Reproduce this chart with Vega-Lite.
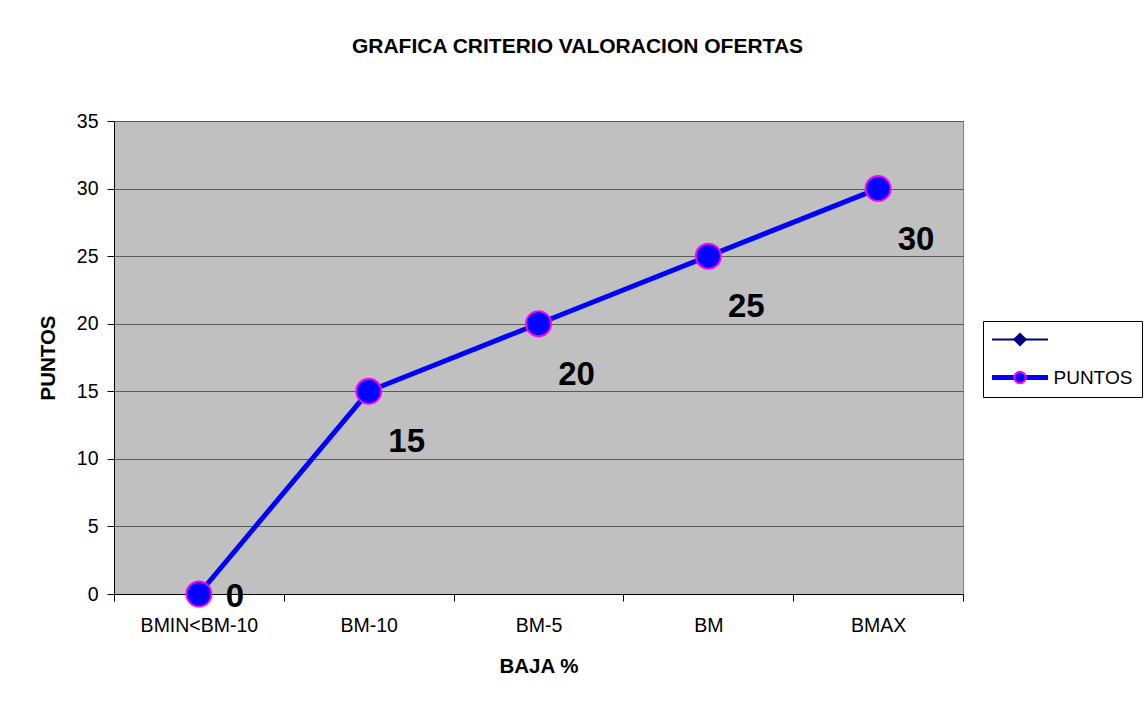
{
  "$schema": "https://vega.github.io/schema/vega-lite/v6.json",
  "autosize": "none",
  "width": 849,
  "height": 473,
  "padding": {"left": 114, "top": 121, "right": 182, "bottom": 113},
  "background": "white",
  "title": {
    "text": "GRAFICA CRITERIO VALORACION OFERTAS",
    "font": "Liberation Sans",
    "fontSize": 21,
    "fontWeight": "bold",
    "color": "black",
    "anchor": "middle",
    "baseline": "bottom",
    "offset": 33,
    "dx": 39
  },
  "data": {
    "values": [
      {"baja": "BMIN<BM-10", "PUNTOS": 0, "serie": "PUNTOS"},
      {"baja": "BM-10", "PUNTOS": 15, "serie": "PUNTOS"},
      {"baja": "BM-5", "PUNTOS": 20, "serie": "PUNTOS"},
      {"baja": "BM", "PUNTOS": 25, "serie": "PUNTOS"},
      {"baja": "BMAX", "PUNTOS": 30, "serie": "PUNTOS"}
    ]
  },
  "encoding": {
    "x": {
      "field": "baja",
      "type": "nominal",
      "sort": null,
      "scale": {"paddingInner": 0, "paddingOuter": 0},
      "axis": {
        "title": "BAJA %",
        "labelAngle": 0,
        "tickBand": "extent",
        "tickSize": 7,
        "labelPadding": 15,
        "titlePadding": 22,
        "grid": false
      }
    },
    "y": {
      "field": "PUNTOS",
      "type": "quantitative",
      "scale": {"domain": [0, 35], "nice": false},
      "axis": {
        "title": "PUNTOS",
        "values": [0, 5, 10, 15, 20, 25, 30, 35],
        "tickSize": 7,
        "labelPadding": 9,
        "titlePadding": 18,
        "grid": true
      }
    }
  },
  "layer": [
    {
      "mark": {"type": "line"},
      "encoding": {
        "color": {
          "field": "serie",
          "type": "nominal",
          "scale": {"domain": ["S1", "PUNTOS"], "range": ["#000080", "#0000FF"]},
          "legend": {
            "title": null,
            "orient": "none",
            "legendX": 869,
            "legendY": 200,
            "padding": 9,
            "fillColor": "white",
            "strokeColor": "black",
            "symbolType": "M-4,0H4",
            "symbolSize": 196,
            "symbolOffset": 18.5,
            "labelOffset": 24,
            "rowPadding": 17,
            "labelFontSize": 19,
            "labelFont": "Liberation Sans",
            "labelColor": "black",
            "labelExpr": "datum.value === 'PUNTOS' ? 'PUNTOS' : ''"
          }
        },
        "strokeWidth": {
          "field": "serie",
          "type": "nominal",
          "scale": {"type": "ordinal", "domain": ["S1", "PUNTOS"], "range": [2, 5]},
          "legend": {
            "title": null,
            "orient": "none",
            "legendX": 869,
            "legendY": 200,
            "padding": 9,
            "fillColor": "white",
            "strokeColor": "black",
            "symbolType": "M-4,0H4",
            "symbolSize": 196,
            "symbolOffset": 18.5,
            "labelOffset": 24,
            "rowPadding": 17,
            "labelFontSize": 19,
            "labelFont": "Liberation Sans",
            "labelColor": "black",
            "labelExpr": "datum.value === 'PUNTOS' ? 'PUNTOS' : ''"
          }
        }
      }
    },
    {
      "mark": {"type": "point", "filled": true, "size": 625, "strokeWidth": 2, "opacity": 1},
      "encoding": {
        "shape": {
          "field": "serie",
          "type": "nominal",
          "scale": {"domain": ["S1 ", "PUNTOS"], "range": ["diamond", "circle"]},
          "legend": {
            "title": null,
            "orient": "none",
            "legendX": 869,
            "legendY": 200,
            "padding": 9,
            "fillColor": null,
            "strokeColor": null,
            "symbolSize": 130,
            "symbolStrokeWidth": 2,
            "symbolOffset": 18.5,
            "labelOffset": 24,
            "rowPadding": 17,
            "labelFontSize": 19,
            "labelExpr": "''"
          }
        },
        "fill": {
          "field": "serie",
          "type": "nominal",
          "scale": {"domain": ["S1 ", "PUNTOS"], "range": ["#000080", "#0000FF"]},
          "legend": {
            "title": null,
            "orient": "none",
            "legendX": 869,
            "legendY": 200,
            "padding": 9,
            "fillColor": null,
            "strokeColor": null,
            "symbolSize": 130,
            "symbolStrokeWidth": 2,
            "symbolOffset": 18.5,
            "labelOffset": 24,
            "rowPadding": 17,
            "labelFontSize": 19,
            "labelExpr": "''"
          }
        },
        "stroke": {
          "field": "serie",
          "type": "nominal",
          "scale": {"domain": ["S1 ", "PUNTOS"], "range": ["#000080", "#FF00FF"]},
          "legend": {
            "title": null,
            "orient": "none",
            "legendX": 869,
            "legendY": 200,
            "padding": 9,
            "fillColor": null,
            "strokeColor": null,
            "symbolSize": 130,
            "symbolStrokeWidth": 2,
            "symbolOffset": 18.5,
            "labelOffset": 24,
            "rowPadding": 17,
            "labelFontSize": 19,
            "labelExpr": "''"
          }
        }
      }
    },
    {
      "transform": [{"filter": "datum.PUNTOS > 0"}],
      "mark": {"type": "text", "font": "Liberation Sans", "fontSize": 33, "fontWeight": "bold", "color": "black", "dx": 38, "dy": 51, "align": "center", "baseline": "middle"},
      "encoding": {"text": {"field": "PUNTOS", "type": "quantitative"}}
    },
    {
      "transform": [{"filter": "datum.PUNTOS == 0"}],
      "mark": {"type": "text", "font": "Liberation Sans", "fontSize": 33, "fontWeight": "bold", "color": "black", "dx": 36, "dy": 3, "align": "center", "baseline": "middle"},
      "encoding": {"text": {"field": "PUNTOS", "type": "quantitative"}}
    }
  ],
  "config": {
    "font": "Liberation Sans",
    "view": {"fill": "#C0C0C0", "stroke": "#808080", "strokeWidth": 1},
    "axis": {
      "labelFont": "Liberation Sans",
      "labelFontSize": 19.5,
      "labelColor": "black",
      "titleFont": "Liberation Sans",
      "titleFontSize": 20.5,
      "titleFontWeight": "bold",
      "titleColor": "black",
      "domainColor": "black",
      "domainWidth": 1,
      "tickColor": "black",
      "tickWidth": 1,
      "gridColor": "#5A5A5A",
      "gridWidth": 1,
      "gridOpacity": 1
    }
  }
}
